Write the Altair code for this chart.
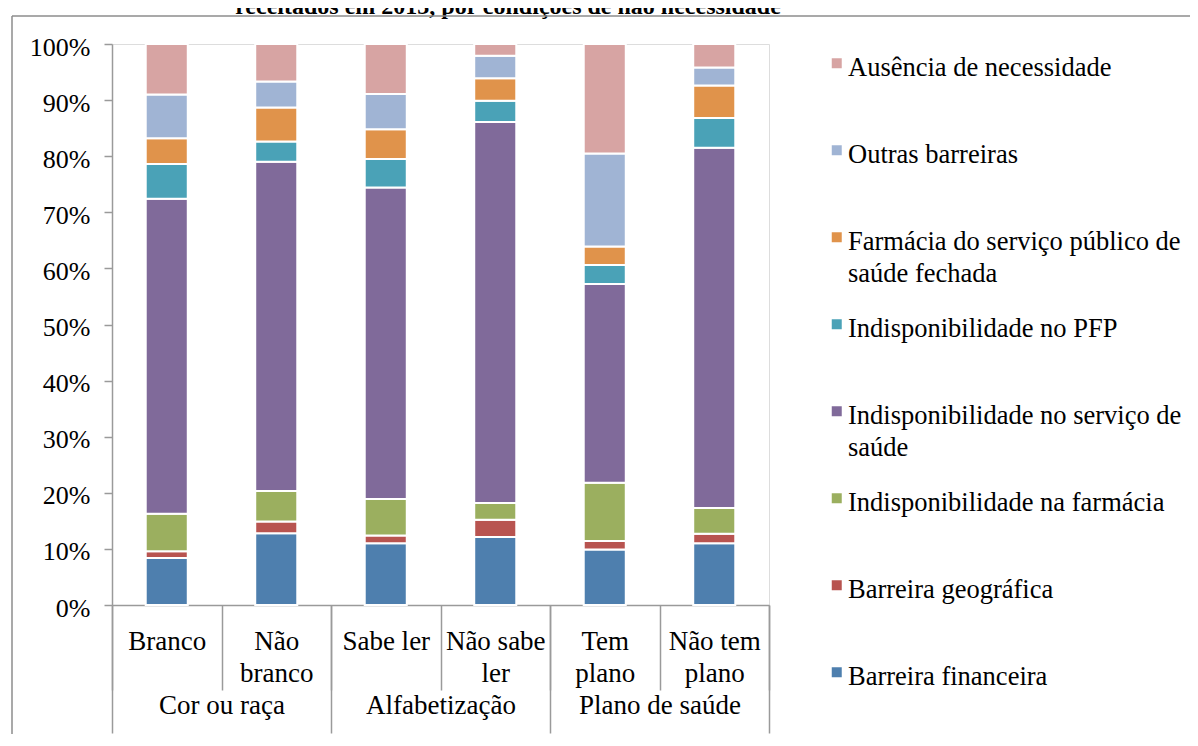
import altair as alt
import pandas as pd

FONT = "Liberation Serif"
GRAY = "#9A9A9A"

# ---------------- data ----------------
categories = ["Branco", "Não branco", "Sabe ler", "Não sabe ler", "Tem plano", "Não tem plano"]
category_lines = [["Branco"], ["Não", "branco"], ["Sabe ler"], ["Não sabe", "ler"], ["Tem", "plano"], ["Não tem", "plano"]]
groups = ["Cor ou raça", "Cor ou raça", "Alfabetização", "Alfabetização", "Plano de saúde", "Plano de saúde"]
group_names = ["Cor ou raça", "Alfabetização", "Plano de saúde"]

# stacking order, bottom to top
series = [
    "Barreira financeira",
    "Barreira geográfica",
    "Indisponibilidade na farmácia",
    "Indisponibilidade no serviço de saúde",
    "Indisponibilidade no PFP",
    "Farmácia do serviço público de saúde fechada",
    "Outras barreiras",
    "Ausência de necessidade",
]
series_lines = [
    ["Barreira financeira"],
    ["Barreira geográfica"],
    ["Indisponibilidade na farmácia"],
    ["Indisponibilidade no serviço de", "saúde"],
    ["Indisponibilidade no PFP"],
    ["Farmácia do serviço público de", "saúde fechada"],
    ["Outras barreiras"],
    ["Ausência de necessidade"],
]
series_colors = ["#4E7FAE", "#B85450", "#9BAF5F", "#806A9A", "#4AA2B7", "#E0934B", "#A0B4D4", "#D7A4A3"]

barreira_financeira = [8.4, 12.8, 11.0, 12.1, 9.9, 11.0]
barreira_geografica = [1.2, 2.1, 1.4, 3.1, 1.5, 1.7]
indisp_farmacia = [6.7, 5.4, 6.5, 3.0, 10.4, 4.6]
indisp_servico = [56.2, 58.7, 55.6, 67.9, 35.4, 64.3]
indisp_pfp = [6.2, 3.6, 5.1, 3.8, 3.4, 5.3]
farmacia_publica_fechada = [4.6, 6.1, 5.3, 4.0, 3.3, 5.8]
outras_barreiras = [7.8, 4.6, 6.3, 4.0, 16.6, 3.2]
ausencia_necessidade = [9.0, 6.7, 8.9, 2.1, 19.5, 4.2]

series_values = [barreira_financeira, barreira_geografica, indisp_farmacia, indisp_servico,
                 indisp_pfp, farmacia_publica_fechada, outras_barreiras, ausencia_necessidade]

title_text = "receitados em 2013, por condições de não necessidade"

# ---------------- table ----------------
rows = []
for si, (name, vals) in enumerate(zip(series, series_values)):
    for ci, cat in enumerate(categories):
        rows.append({"categoria": cat, "grupo": groups[ci], "serie": name, "valor": vals[ci], "ordem": si})
df = pd.DataFrame(rows)


def lines_expr(keys, lines, field):
    parts = []
    for k, ls in zip(keys, lines):
        arr = "[" + ", ".join("'" + s + "'" for s in ls) + "]"
        parts.append(f"{field} == '{k}' ? {arr} : ")
    return "".join(parts) + field


cat_expr = lines_expr(categories, category_lines, "datum.value")
leg_expr = lines_expr(series, series_lines, "datum.value")

legend_domain = list(reversed(series))
legend_range = list(reversed(series_colors))

# square symbol shifted so it sits beside the first label line
SYMBOL = "M-0.6,0.7H1.4V2.7H-0.6Z"

bars = alt.Chart(df).mark_bar(stroke="white", strokeWidth=2).encode(
    x=alt.X(
        "categoria:N",
        sort=categories,
        scale=alt.Scale(paddingInner=0.616, paddingOuter=0.308),
        axis=None,
    ),
    y=alt.Y(
        "valor:Q",
        stack="normalize",
        scale=alt.Scale(domain=[0, 1]),
        axis=alt.Axis(
            title=None, format=".0%", values=[i / 10 for i in range(11)], grid=False,
            tickSize=8, tickColor=GRAY, tickWidth=1.5, domainColor=GRAY, domainWidth=1.5,
            labelFont=FONT, labelFontSize=26, labelColor="black", labelPadding=14, labelOffset=3,
        ),
    ),
    color=alt.Color(
        "serie:N",
        scale=alt.Scale(domain=legend_domain, range=legend_range),
        legend=alt.Legend(
            title=None, orient="none", legendX=709.5, legendY=-2.5, direction="vertical",
            labelExpr=leg_expr, labelFont=FONT, labelFontSize=26.5, labelColor="black",
            labelLimit=440, labelBaseline="top", labelOffset=0,
            symbolType=SYMBOL, symbolSize=100, symbolStrokeWidth=0, symbolOpacity=1,
            rowPadding=15, gridAlign="all", padding=0,
        ),
    ),
    order=alt.Order("ordem:Q", sort="ascending"),
)

# category axis (band scale without padding so ticks fall between categories)
cat_df = pd.DataFrame({"categoria": categories})
cat_layer = alt.Chart(cat_df).mark_bar(opacity=0).encode(
    x=alt.X(
        "categoria:N",
        sort=categories,
        scale=alt.Scale(type="band", paddingInner=0, paddingOuter=0),
        axis=alt.Axis(
            orient="bottom", title=None, labelExpr=cat_expr, labelAngle=0, labelFont=FONT,
            labelFontSize=27, labelColor="black", labelBaseline="top", labelPadding=-62,
            labelOverlap=False, labelLimit=300, tickBand="extent", tickSize=85, tickColor=GRAY,
            tickWidth=1.5, domainColor=GRAY, domainWidth=1.5,
        ),
    ),
)

group_df = pd.DataFrame({"grupo": group_names})
group_layer = alt.Chart(group_df).mark_bar(opacity=0).encode(
    x=alt.X(
        "grupo:N",
        sort=group_names,
        scale=alt.Scale(type="band", paddingInner=0, paddingOuter=0),
        axis=alt.Axis(
            orient="bottom", title=None, domain=False, labelAngle=0, labelFont=FONT,
            labelFontSize=27, labelColor="black", labelBaseline="top", labelPadding=-41,
            labelOverlap=False, labelLimit=300, tickBand="extent", tickSize=128,
            tickColor=GRAY, tickWidth=1.5,
        ),
    ),
)

title_layer = alt.Chart(pd.DataFrame({"t": [title_text]})).mark_text(
    font=FONT, fontSize=24, fontWeight="bold", color="black", align="center", baseline="alphabetic"
).encode(text="t:N", x=alt.value(396), y=alt.value(-30))

border_df = pd.DataFrame({"b": [0]})
border_top = alt.Chart(border_df).mark_rule(color="#8C8C8C", strokeWidth=1.5).encode(
    x=alt.value(-100), x2=alt.value(1100), y=alt.value(-28)
)
border_left = alt.Chart(border_df).mark_rule(color="#8C8C8C", strokeWidth=1.5).encode(
    x=alt.value(-100), y=alt.value(-28), y2=alt.value(700)
)

chart = (
    alt.layer(bars, cat_layer, group_layer, title_layer, border_top, border_left)
    .resolve_scale(x="independent")
    .properties(
        width=657,
        height=561,
        padding={"left": 104, "top": 36, "right": 421, "bottom": 129},
        autosize=alt.AutoSizeParams(type="none"),
    )
    .configure_view(stroke=None)
    .configure(
        font=FONT,
        style={"guide-label": {"lineHeight": 32, "font": FONT, "fill": "black"}},
    )
)

chart.save("out.html", embed_options={"renderer": "svg", "actions": False})
